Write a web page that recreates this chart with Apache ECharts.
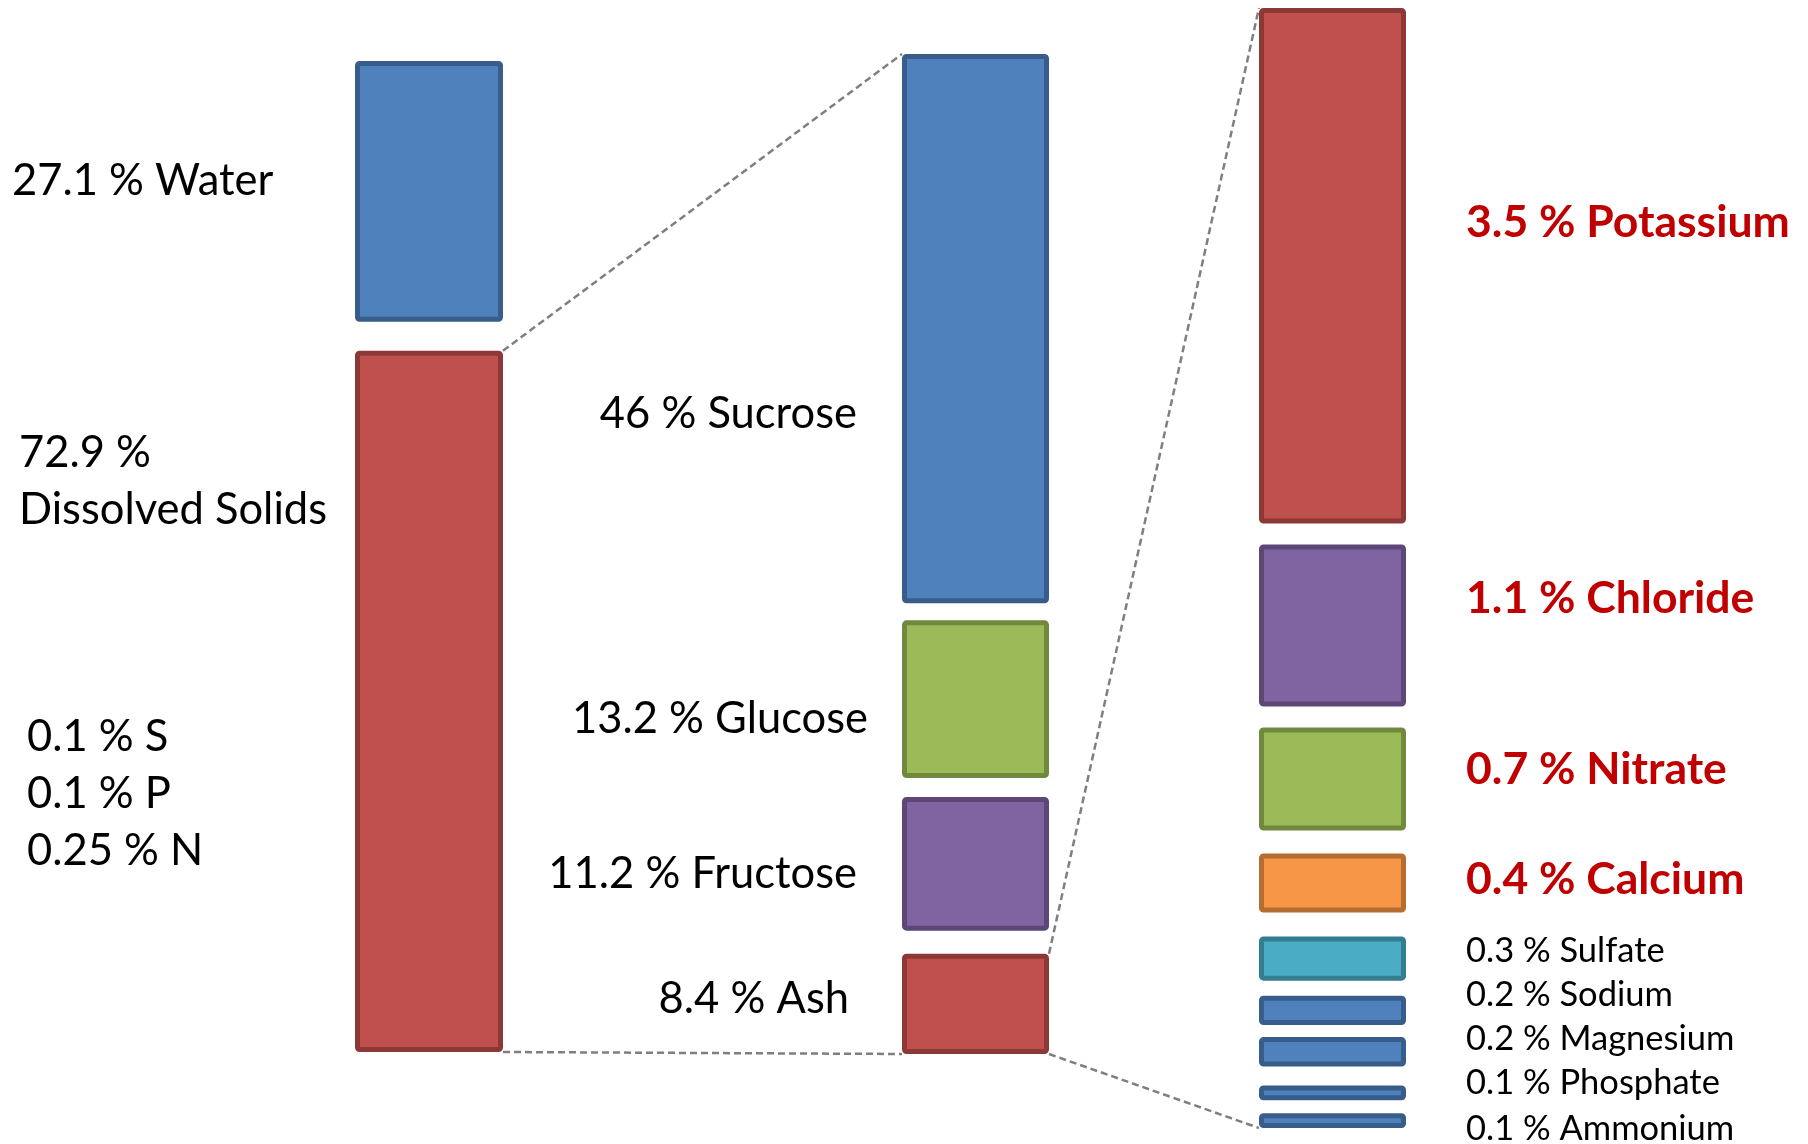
<!DOCTYPE html>
<html>
<head>
<meta charset="utf-8">
<title>Composition breakdown</title>
<script src="https://cdn.jsdelivr.net/npm/echarts@6/dist/echarts.min.js"></script>
<style>
  html, body { margin: 0; padding: 0; background: #ffffff; }
  #chart { width: 1808px; height: 1144px; }
</style>
</head>
<body>
<div id="chart"></div>
<script>
// ---- values (percent) ----
const bulkNames = ['Water', 'Dissolved Solids'];
const bulkValues = [27.1, 72.9];

const solidNames = ['Sucrose', 'Glucose', 'Fructose', 'Ash'];
const solidValues = [46, 13.2, 11.2, 8.4];

const ashNames = ['Potassium', 'Chloride', 'Nitrate', 'Calcium', 'Sulfate',
                  'Sodium', 'Magnesium', 'Phosphate', 'Ammonium'];
const ashValues = [3.5, 1.1, 0.7, 0.4, 0.3, 0.2, 0.2, 0.1, 0.1];

const traceNames = ['S', 'P', 'N'];
const traceValues = [0.1, 0.1, 0.25];

// ---- styling / layout ----
const FONT = 'Lato, "Open Sans", sans-serif';
const palette = {
  blue:   ['#4F81BD', '#385D8A'],
  red:    ['#C0504D', '#8C3836'],
  green:  ['#9BBB59', '#71893F'],
  purple: ['#8064A2', '#5C4776'],
  orange: ['#F79646', '#B66D31'],
  aqua:   ['#4BACC6', '#357D91']
};

const columns = [
  { names: bulkNames, values: bulkValues, colors: ['blue', 'red'],
    left: 355, width: 148, top: 61, height: 991, gaps: [29] },
  { names: solidNames, values: solidValues, colors: ['blue', 'green', 'purple', 'red'],
    left: 902, width: 147, top: 54, height: 1000, gaps: [17, 19, 23] },
  { names: ashNames, values: ashValues,
    colors: ['red', 'purple', 'green', 'orange', 'aqua', 'blue', 'blue', 'blue', 'blue'],
    left: 1259, width: 147, top: 8, height: 1120, gaps: [21, 21, 23, 24, 15, 12, 19, 13] }
];

const sum = arr => arr.reduce((a, b) => a + b, 0);
const cumBefore = (arr, i) => sum(arr.slice(0, i));
const gapOffset = (col, i) => sum(col.gaps.slice(0, i));

const STROKE = 5;

const chart = echarts.init(document.getElementById('chart'), null, { renderer: 'canvas' });

const grids = [], xAxes = [], yAxes = [], series = [];
columns.forEach((col, ci) => {
  grids.push({ left: col.left, top: col.top, width: col.width,
               height: col.height - sum(col.gaps) });
  xAxes.push({ type: 'category', gridIndex: ci, data: [''], show: false,
               boundaryGap: true });
  yAxes.push({ type: 'value', gridIndex: ci, inverse: true, min: 0,
               max: sum(col.values), show: false });
  series.push({
    type: 'custom',
    xAxisIndex: ci,
    yAxisIndex: ci,
    clip: false,
    silent: true,
    encode: { x: 0, y: 1 },
    data: col.values.map((v, i) => [0, cumBefore(col.values, i), v, i]),
    renderItem: (params, api) => {
      const i = api.value(3);
      const startPt = api.coord([0, api.value(1)]);
      const h = Math.abs(api.size([0, api.value(2)])[1]);
      const bw = Math.abs(api.size([1, 0])[0]);
      const x = startPt[0] - bw / 2;
      const y = startPt[1] + gapOffset(col, i);
      const c = palette[col.colors[i]];
      const half = STROKE / 2;
      return {
        type: 'rect',
        shape: { x: x + half, y: y + half, width: bw - STROKE,
                 height: Math.max(h - STROKE, 1), r: 2 },
        style: { fill: c[0], stroke: c[1], lineWidth: STROKE }
      };
    }
  });
});

chart.setOption({
  backgroundColor: '#ffffff',
  animation: false,
  grid: grids,
  xAxis: xAxes,
  yAxis: yAxes,
  series: series
});

// pixel box of a segment, taken from the column's value axis
function segBox(ci, i) {
  const col = columns[ci];
  const start = cumBefore(col.values, i);
  const off = gapOffset(col, i);
  const y0 = chart.convertToPixel({ gridIndex: ci }, [0, start])[1] + off;
  const y1 = chart.convertToPixel({ gridIndex: ci }, [0, start + col.values[i]])[1] + off;
  return { x0: col.left, x1: col.left + col.width, y0: y0, y1: y1 };
}

const connectorStyle = { stroke: '#7F7F7F', lineWidth: 2.5, lineDash: [7, 4] };
function connector(p, q) {
  return { type: 'line', silent: true, z: 5,
           shape: { x1: p[0], y1: p[1], x2: q[0], y2: q[1] },
           style: connectorStyle };
}

const solids = segBox(0, 1);
const sucrose = segBox(1, 0);
const ash = segBox(1, solidValues.length - 1);
const firstIon = segBox(2, 0);
const lastIon = segBox(2, ashValues.length - 1);

const graphics = [
  connector([solids.x1, solids.y0], [sucrose.x0, sucrose.y0]),
  connector([solids.x1, solids.y1], [ash.x0, ash.y1]),
  connector([ash.x1, ash.y0], [firstIon.x0, firstIon.y0]),
  connector([ash.x1, ash.y1], [lastIon.x0, lastIon.y1])
];

const pct = (v, name) => v + ' % ' + name;
const CAP_SHIFT = 2;
function label(text, x, y, opts) {
  opts = opts || {};
  return {
    type: 'text', silent: true, z: 10,
    x: x, y: y + CAP_SHIFT,
    style: {
      text: text,
      fill: opts.color || '#000000',
      fontFamily: FONT,
      fontSize: opts.size || 43.5,
      fontWeight: opts.weight || 'normal',
      lineHeight: opts.lineHeight || 57,
      align: opts.align || 'left',
      verticalAlign: 'middle'
    }
  };
}

// left column labels
graphics.push(label(pct(bulkValues[0], bulkNames[0]), 12, 179));
graphics.push(label(bulkValues[1] + ' %\n' + bulkNames[1], 19, 479));
graphics.push(label(traceNames.map((n, i) => pct(traceValues[i], n)).join('\n'), 27, 792));

// middle column labels (right aligned next to the bars)
const midLabelY = [412, 717, 872, 997];
const midLabelX = [857, 868, 857, 849];
solidNames.forEach((n, i) => {
  graphics.push(label(pct(solidValues[i], n), midLabelX[i], midLabelY[i], { align: 'right' }));
});

// right column labels: the major ions in bold red, the rest as a plain list
const rightLabelY = [221, 597, 768, 878, 949, 993, 1037, 1081, 1127];
const majorCount = 4;
ashNames.forEach((n, i) => {
  const major = i < majorCount;
  graphics.push(label(pct(ashValues[i], n), 1466, rightLabelY[i], major
    ? { color: '#C00000', weight: 'bold', size: 44.5 }
    : { size: 34.5 }));
});

chart.setOption({ graphic: graphics });
</script>
</body>
</html>
